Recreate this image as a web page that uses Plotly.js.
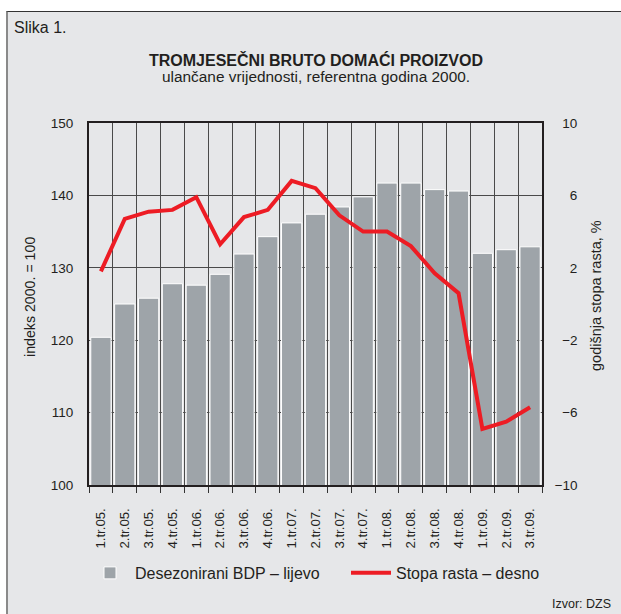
<!DOCTYPE html>
<html><head><meta charset="utf-8">
<script src="https://cdn.plot.ly/plotly-3.0.1.min.js"></script>
<style>
html,body{margin:0;padding:0;background:#fff;}
#frame{position:absolute;left:6px;top:11px;width:615px;height:603px;background:#e6e7e9;border-top:1.5px solid #333;border-left:2px solid #8a8a8a;box-sizing:border-box;}
#chart{position:absolute;left:0;top:0;width:621px;height:614px;}
</style></head>
<body>
<div id="frame"></div>
<div id="chart"></div>
<script>
const categories = ["1.tr.05.","2.tr.05.","3.tr.05.","4.tr.05.","1.tr.06.","2.tr.06.","3.tr.06.","4.tr.06.","1.tr.07.","2.tr.07.","3.tr.07.","4.tr.07.","1.tr.08.","2.tr.08.","3.tr.08.","4.tr.08.","1.tr.09.","2.tr.09.","3.tr.09."];
const bdpIndex = [120.4,125.0,125.8,127.8,127.6,129.1,131.9,134.3,136.2,137.4,138.4,139.8,141.7,141.7,140.8,140.6,132.0,132.5,132.9];
const growthRate = [1.8,4.7,5.1,5.2,5.9,3.3,4.8,5.2,6.8,6.4,4.9,4.0,4.0,3.2,1.7,0.6,-6.9,-6.5,-5.7];
const leftTicks = [100,110,120,130,140,150];
const rightTicks = [-10,-6,-2,2,6,10];
const rightTickText = ["\u221210","\u2007\u22126","\u2007\u22122","\u2007\u20072","\u2007\u20076","\u200710"];

const FONT = "Liberation Sans, Arial, sans-serif";
const TXT = "#231f20";

const traces = [
  {type:"bar", x:categories, y:bdpIndex, name:"Desezonirani BDP \u2013 lijevo",
   marker:{color:"#9ea4a9", line:{color:"#ffffff", width:1}}, yaxis:"y"},
  {type:"scatter", mode:"lines", x:categories, y:growthRate, name:"Stopa rasta \u2013 desno",
   line:{color:"#ed1c24", width:4}, yaxis:"y2"}
];

const layout = {
  width:621, height:614,
  paper_bgcolor:"rgba(0,0,0,0)", plot_bgcolor:"rgba(0,0,0,0)",
  margin:{l:89, r:79, t:123, b:129},
  font:{family:FONT, color:TXT, size:13},
  bargap:0.15,
  showlegend:true,
  legend:{orientation:"h", x:(85-89)/453, xanchor:"left", y:-0.243, yanchor:"middle",
          font:{size:16, color:TXT}, bgcolor:"rgba(0,0,0,0)", itemwidth:40, tracegroupgap:0,
          entrywidth:206, entrywidthmode:"pixels"},
  xaxis:{type:"category", tickson:"boundaries", ticks:"outside", ticklen:6, tickcolor:"#333", tickwidth:1,
         showgrid:true, gridcolor:"#4a4a4a", gridwidth:1, tickangle:-90,
         tickfont:{size:13.2, color:TXT}, showline:true, linecolor:"#231f20", linewidth:2, mirror:true,
         ticklabelstandoff:16},
  yaxis:{range:[100,150], tickvals:leftTicks, showgrid:true, gridcolor:"#4a4a4a", gridwidth:1,
         showline:true, linecolor:"#231f20", linewidth:2, ticks:"", tickfont:{size:13.5, color:TXT},
         ticklabelstandoff:11, zeroline:false},
  yaxis2:{range:[-10,10], overlaying:"y", side:"right", tickvals:rightTicks, ticktext:rightTickText,
          showgrid:false, showline:true, linecolor:"#231f20", linewidth:2, ticks:"",
          tickfont:{size:13.5, color:TXT}, ticklabelstandoff:8, zeroline:false},
  annotations:[
    {text:"Slika 1.", xref:"paper", yref:"paper", x:(12-89)/453, y:(485-27)/362, xanchor:"left", yanchor:"middle", showarrow:false, font:{size:16, color:TXT}},
    {text:"<b>TROMJESE\u010cNI BRUTO DOMA\u0106I PROIZVOD</b>", xref:"paper", yref:"paper", x:0.5, y:(485-60)/362, xanchor:"center", yanchor:"middle", showarrow:false, font:{size:16, color:TXT}},
    {text:"ulan\u010dane vrijednosti, referentna godina 2000.", xref:"paper", yref:"paper", x:0.5, y:(485-76)/362, xanchor:"center", yanchor:"middle", showarrow:false, font:{size:15.4, color:TXT}},
    {text:"indeks 2000. = 100", xref:"paper", yref:"paper", x:(30-89)/453, y:(485-297)/362, xanchor:"center", yanchor:"middle", textangle:-90, showarrow:false, font:{size:14.2, color:TXT}},
    {text:"godi\u0161nja stopa rasta, %", xref:"paper", yref:"paper", x:(596-89)/453, y:(485-296)/362, xanchor:"center", yanchor:"middle", textangle:-90, showarrow:false, font:{size:14.5, color:TXT}},
    {text:"Izvor: DZS", xref:"paper", yref:"paper", x:(613-89)/453, y:(485-604)/362, xanchor:"right", yanchor:"middle", showarrow:false, font:{size:12.5, color:TXT}}
  ]
};

Plotly.newPlot("chart", traces, layout, {staticPlot:true, displayModeBar:false});
</script>
</body></html>
